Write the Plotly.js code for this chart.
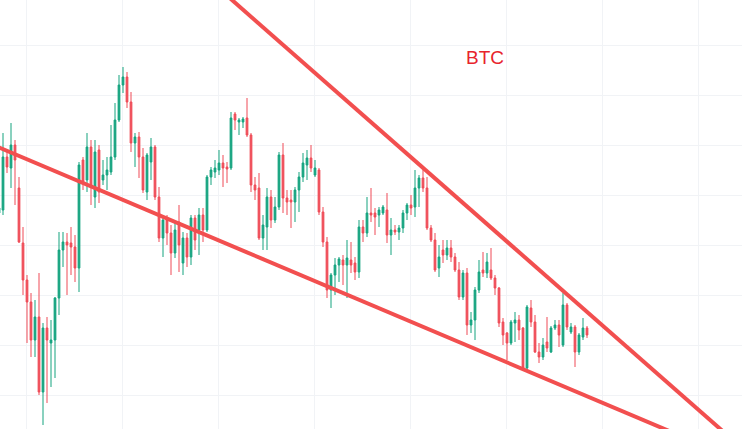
<!DOCTYPE html>
<html>
<head>
<meta charset="utf-8">
<script src="https://cdn.plot.ly/plotly-3.0.1.min.js"></script>
<style>html,body{margin:0;padding:0;background:#fff;}#chart{width:742px;height:429px;}</style>
</head>
<body>
<div id="chart"></div>
<script>
// candle values (price units)
const openVals = [217,220,273,262,285,242,187,150,128,90,113,38,102,87,90,132,180,188,187,183,162,270,250,283,233,280,250,255,258,273,310,345,353,328,287,293,273,238,268,283,233,192,210,197,
177,208,167,192,173,212,200,215,200,253,258,260,267,263,262,316,308,308,312,295,245,242,192,203,233,210,223,275,232,230,228,240,253,265,272,255,260,218,188,140,155,165,170,165,170,167,158,203,197,217,217,215,217,220,195,200,198,202,217,225,223,242,252,242,202,190,162,
180,175,182,173,160,133,157,105,110,140,160,157,160,152,142,108,97,87,107,110,102,62,122,108,78,73,88,78,102,105,85,125,98,103,78,93,102];
const closeVals = [222,273,263,285,270,188,150,128,90,113,38,102,90,90,132,180,188,185,183,162,265,248,283,243,278,238,255,260,273,310,345,353,328,287,293,273,240,275,283,233,192,210,197,177,
200,185,192,173,212,190,215,200,253,260,262,267,262,261,312,310,310,311,295,245,240,192,205,233,210,223,275,232,228,228,240,253,267,272,262,262,218,188,140,155,165,171,165,172,165,158,203,197,217,215,213,220,223,195,200,198,202,217,225,222,242,252,242,202,190,160,173,
175,182,173,160,133,157,105,110,140,158,157,168,152,142,107,95,87,108,110,100,62,123,108,78,73,85,82,102,105,95,125,103,103,78,95,102,95];
const highVals = [224,297,280,307,290,253,203,155,137,130,157,107,113,110,133,198,198,197,203,195,268,273,297,290,290,285,270,273,305,327,355,363,358,338,297,298,282,277,292,285,243,213,215,205,
207,225,198,197,215,215,222,222,255,263,270,280,275,268,318,318,312,313,332,297,253,257,215,242,240,233,278,287,240,240,243,258,277,280,285,270,262,223,193,157,172,173,175,190,188,173,210,210,233,242,222,223,225,237,212,205,205,220,227,235,260,255,260,253,205,197,185,
190,190,190,177,168,160,162,118,143,170,178,177,182,155,143,112,98,110,118,115,103,125,130,115,87,92,113,104,110,110,137,127,107,105,97,112,104];
const lowVals = [215,215,257,242,225,187,135,87,73,73,35,5,27,43,52,115,163,135,155,148,138,240,238,225,222,227,245,240,255,270,308,337,322,278,263,252,237,230,250,230,188,173,185,155,
172,158,155,163,165,180,175,188,198,245,252,255,243,247,260,300,295,302,293,238,230,190,180,180,202,207,220,217,215,202,208,218,248,250,258,253,215,183,132,122,135,148,145,132,157,150,152,188,193,208,195,203,215,187,175,195,190,197,210,215,213,223,238,200,188,158,153,
167,170,168,158,130,130,95,97,90,137,153,152,150,135,103,85,70,85,88,90,60,60,103,77,67,70,78,77,100,83,83,100,96,63,75,90,92];
const candleIdx = openVals.map((_, i) => i);

// trend line anchor points (candle index, price)
const upperLineX = [50, 190];
const upperLineY = [459, -33];
const lowerLineX = [-5, 190];
const lowerLineY = [291, -39];

const label = "BTC";

const green = "#14a37f";
const red = "#ef4b57";
const lineRed = "#f24f4f";

const traces = [
  {
    type: "candlestick",
    x: candleIdx,
    open: openVals, high: highVals, low: lowVals, close: closeVals,
    increasing: {line: {color: green, width: 1}, fillcolor: green},
    decreasing: {line: {color: red, width: 1}, fillcolor: red},
    whiskerwidth: 0,
    hoverinfo: "none",
    showlegend: false
  },
  {
    type: "scatter", mode: "lines", x: upperLineX, y: upperLineY,
    line: {color: lineRed, width: 4}, hoverinfo: "none", showlegend: false
  },
  {
    type: "scatter", mode: "lines", x: lowerLineX, y: lowerLineY,
    line: {color: lineRed, width: 4}, hoverinfo: "none", showlegend: false
  }
];

const layout = {
  width: 742, height: 429,
  margin: {l: 0, r: 0, t: 0, b: 0, pad: 0},
  paper_bgcolor: "#ffffff", plot_bgcolor: "#ffffff",
  showlegend: false,
  boxgap: 0.38,
  xaxis: {
    range: [0.25, 185.75], rangeslider: {visible: false},
    showticklabels: false, zeroline: false, showline: false,
    showgrid: true, gridcolor: "#f1f3f6", gridwidth: 1,
    tickmode: "linear", tick0: 6.75, dtick: 24, ticks: ""
  },
  yaxis: {
    range: [1, 430],
    showticklabels: false, zeroline: false, showline: false,
    showgrid: true, gridcolor: "#f1f3f6", gridwidth: 1,
    tickmode: "linear", tick0: 35, dtick: 50, ticks: ""
  },
  annotations: [{
    text: label, xref: "paper", yref: "paper", x: 0.654, y: 0.867,
    xanchor: "center", yanchor: "middle", showarrow: false,
    font: {family: "Liberation Sans, Arial, sans-serif", size: 19, color: "#e8232b"}
  }]
};

Plotly.newPlot("chart", traces, layout, {staticPlot: true, displayModeBar: false});
</script>
</body>
</html>
